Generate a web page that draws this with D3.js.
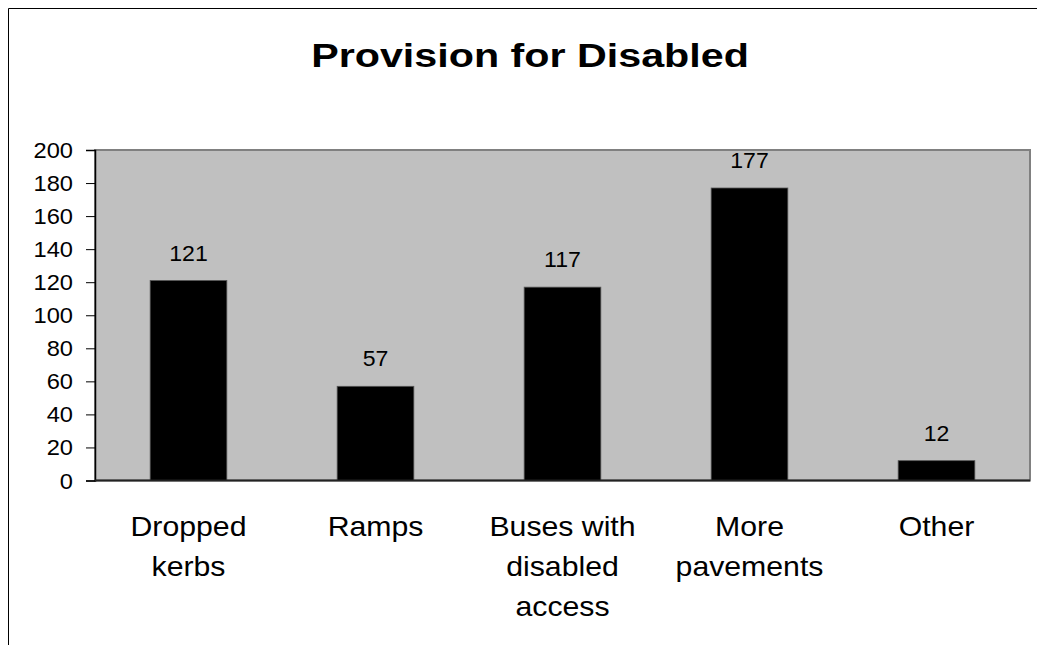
<!DOCTYPE html>
<html><head><meta charset="utf-8">
<script src="https://cdn.jsdelivr.net/npm/d3@7"></script>
<style>html,body{margin:0;background:#fff;overflow:hidden}svg{display:block}text{font-family:"Liberation Sans",Arial,sans-serif;fill:#000}</style>
</head><body><svg id="c" width="1037" height="645"></svg>
<script>
const title = "Provision for Disabled";
const categories = [["Dropped","kerbs"],["Ramps"],["Buses with","disabled","access"],["More","pavements"],["Other"]];
const values = [121,57,117,177,12];
const yTicks = [0,20,40,60,80,100,120,140,160,180,200];

const svg = d3.select("#c");
const m = {left:95, top:150, right:1030, bottom:480.5};
const keys = categories.map(c=>c.join(" "));
const x = d3.scaleBand().domain(keys).range([m.left,m.right]).paddingInner(0.59).paddingOuter(0.295);
const y = d3.scaleLinear().domain([0,200]).range([m.bottom,m.top]);

// outer border (extends past right/bottom edges)
svg.append("path").attr("d","M8.5,645 V8.5 H1037").attr("fill","none").attr("stroke","#000").attr("stroke-width",1);

// plot area
svg.append("rect").attr("x",m.left).attr("y",m.top).attr("width",m.right-m.left).attr("height",m.bottom-m.top).attr("fill","#c0c0c0").attr("stroke","#808080").attr("stroke-width",2);

// bars
svg.selectAll(".bar").data(values).join("rect")
  .attr("x",(d,i)=>x(keys[i])).attr("width",x.bandwidth())
  .attr("y",d=>y(d)).attr("height",d=>y(0)-y(d))
  .attr("fill","#000").attr("stroke","#555").attr("stroke-width",0.8);

// y axis
const ya = svg.append("g").attr("transform",`translate(${m.left},0)`)
  .call(d3.axisLeft(y).tickValues(yTicks).tickSize(9).tickPadding(0).tickFormat(d3.format("d")));
ya.select(".domain").attr("stroke","#000").attr("stroke-width",1.5);
ya.selectAll(".tick line").attr("stroke","#000");
ya.selectAll(".tick text").remove();
ya.selectAll(".tick").append("text")
  .attr("transform","translate(-22,7.5) scale(1.1,1)")
  .attr("text-anchor","end").style("font-size","21.5px").text(d=>d);

// x axis line
svg.append("line").attr("x1",m.left).attr("x2",m.right).attr("y1",y(0)).attr("y2",y(0)).attr("stroke","#222").attr("stroke-width",2);

// value labels
svg.selectAll(".val").data(values).join("text")
  .attr("transform",(d,i)=>`translate(${x(keys[i])+x.bandwidth()/2},${y(d)-20}) scale(1.05,1)`)
  .attr("text-anchor","middle").style("font-size","22px").text(d=>d);

// category labels
categories.forEach((lines,i)=>{
  const cx = x(keys[i])+x.bandwidth()/2;
  lines.forEach((t,j)=>{
    svg.append("text").attr("transform",`translate(${cx},${536+j*40}) scale(1.08,1)`)
      .attr("text-anchor","middle").style("font-size","28px").text(t);
  });
});

// title
svg.append("text").attr("transform","translate(530,67) scale(1.25,1)")
  .attr("text-anchor","middle").style("font-size","33px").style("font-weight","bold").text(title);
</script></body></html>
